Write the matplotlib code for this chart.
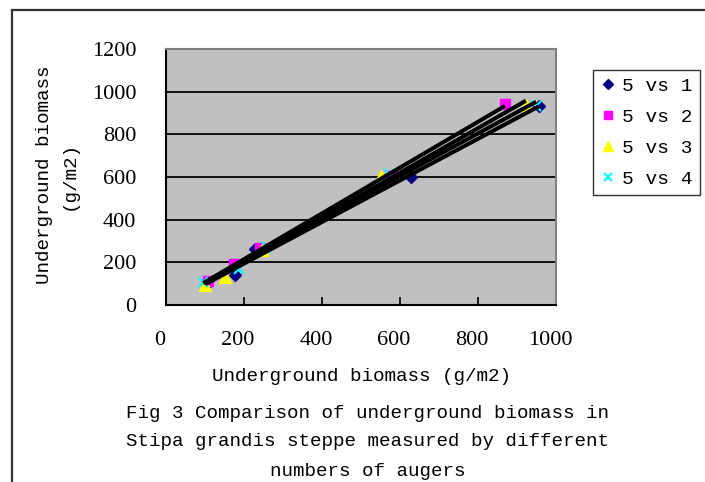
import numpy as np
import matplotlib
matplotlib.use("Agg")
import matplotlib.pyplot as plt
import matplotlib.transforms as mtransforms
from matplotlib.patches import Rectangle

plt.rcParams['font.family'] = ['Liberation Serif', 'DejaVu Serif']
MONO = ['Liberation Mono', 'DejaVu Sans Mono']

series_names = ["5 vs 1", "5 vs 2", "5 vs 3", "5 vs 4"]
x_s1 = [105, 177, 228, 628, 956]
y_s1 = [100, 140, 262, 600, 935]
x_s2 = [108, 174, 241, 580, 869]
y_s2 = [112, 192, 266, 605, 942]
x_s3 = [100, 151, 246, 551, 923]
y_s3 = [95, 131, 257, 603, 939]
x_s4 = [95, 187, 259, 572, 949]
y_s4 = [107, 168, 271, 612, 935]
xs = [x_s1, x_s2, x_s3, x_s4]
ys = [y_s1, y_s2, y_s3, y_s4]

x_ticks = [0, 200, 400, 600, 800, 1000]
y_ticks = [0, 200, 400, 600, 800, 1000, 1200]

colors = ["#000080", "#FF00FF", "#FFFF00", "#00FFFF"]
markers = ["D", "s", "^", "x"]
msizes = [6, 7, 8, 7]

fig = plt.figure(figsize=(7.05, 4.82), dpi=100)
W, H = 705, 482
ax = fig.add_axes([166 / W, 1 - 305 / H, (556 - 166) / W, (305 - 49) / H])
ax.set_facecolor("#C0C0C0")
ax.set_xlim(0, 1000)
ax.set_ylim(0, 1200)
ax.set_xticks(x_ticks)
ax.set_yticks(y_ticks)
ax.yaxis.grid(True, color="black", linewidth=1.3)
ax.set_axisbelow(True)
for s in ["top", "right"]:
    ax.spines[s].set_color("#808080")
    ax.spines[s].set_linewidth(1.5)
for s in ["left", "bottom"]:
    ax.spines[s].set_color("black")
    ax.spines[s].set_linewidth(1.5)
ax.tick_params(axis="x", direction="in", length=6, width=1.2, pad=18.5, labelsize=16)
ax.tick_params(axis="y", direction="in", length=0, pad=21.5, labelsize=16)
shift = mtransforms.ScaledTranslation(-6 / 100, 0, fig.dpi_scale_trans)
for lab in ax.get_xticklabels():
    lab.set_transform(lab.get_transform() + shift)

handles = []
for i in range(4):
    kw = dict(color=colors[i], marker=markers[i], linestyle="none", markersize=msizes[i])
    if markers[i] == "x":
        kw["markeredgewidth"] = 1.5
    h, = ax.plot(xs[i], ys[i], zorder=3, label=series_names[i], **kw)
    handles.append(h)

for i in range(4):
    xa = np.array(xs[i], dtype=float)
    ya = np.array(ys[i], dtype=float)
    k, b = np.polyfit(xa, ya, 1)
    xx = np.array([xa.min(), xa.max()])
    ax.plot(xx, k * xx + b, color="black", linewidth=2.9, zorder=4, solid_capstyle="butt")

ax.set_xlabel("Underground biomass (g/m2)", fontsize=13.9, family=MONO, labelpad=13)
fig.text(45 / W, 1 - 175 / H, "Underground biomass", rotation=90, fontsize=13.9,
         family=MONO, ha="center", va="center")
fig.text(69 / W, 1 - 175 / H, "(g/m2)", rotation=90, fontsize=13.9,
         family=MONO, ha="center", va="center")

leg = fig.legend(handles=handles, loc="upper left", bbox_to_anchor=(593 / W, 1 - 70 / H),
                 frameon=True, fancybox=False, edgecolor="black",
                 prop={"family": MONO, "size": 14},
                 handlelength=0.8, handletextpad=0.3, labelspacing=0.68,
                 borderpad=0.38, borderaxespad=0, markerscale=0.9)
leg.get_frame().set_linewidth(1.0)

caption = ["Fig 3 Comparison of underground biomass in",
           "Stipa grandis steppe measured by different",
           "numbers of augers"]
for j, line in enumerate(caption):
    fig.text(368 / W, 1 - (413 + 29 * j) / H, line, fontsize=13.8, family=MONO,
             ha="center", va="center")

fig.patches.append(Rectangle((12 / W, -0.1), 1.2, 1 - 10 / H + 0.1, transform=fig.transFigure,
                             fill=False, edgecolor="#333333", linewidth=1.6))

fig.savefig("out.png", dpi=100)
